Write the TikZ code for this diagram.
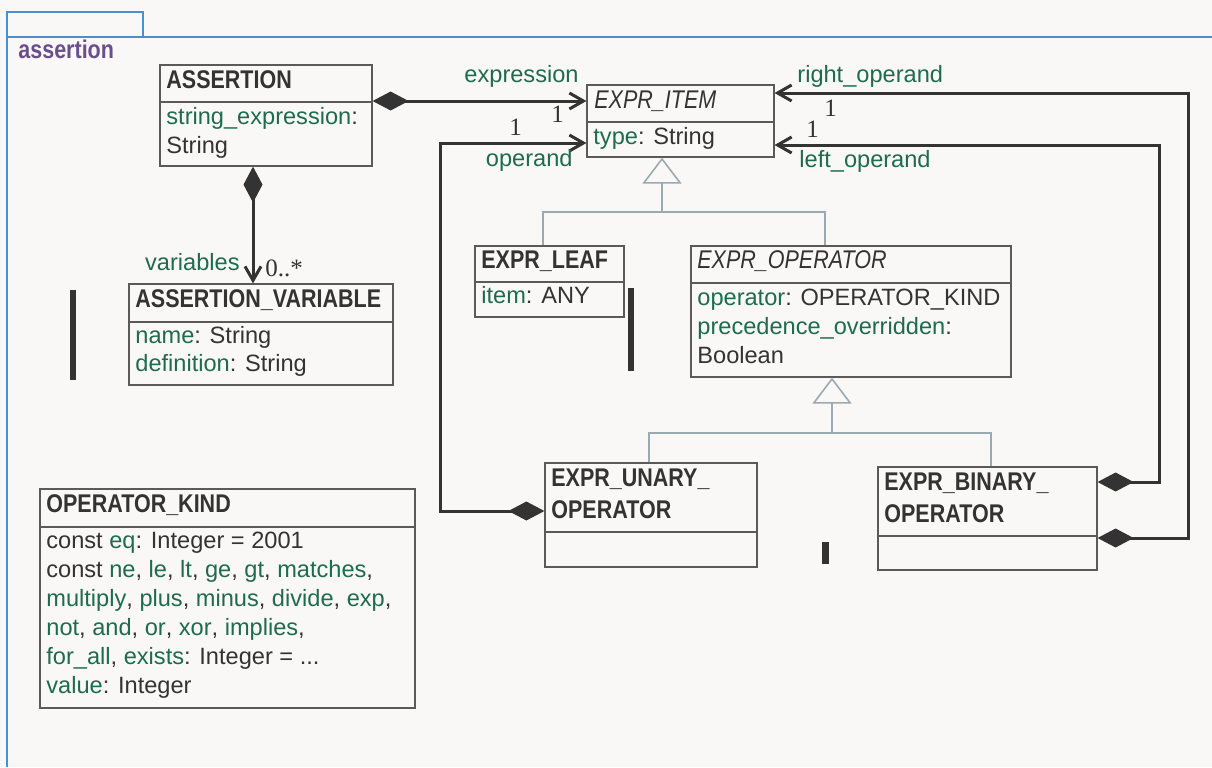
\documentclass[tikz,border=0pt]{standalone}
\usepackage{fontspec}
\setmainfont{Liberation Sans}
\newfontfamily\namefont[FakeStretch=0.84]{Liberation Sans}
\newfontfamily\multfont{Liberation Serif}
\usetikzlibrary{arrows.meta,fit}

\definecolor{framecol}{HTML}{4A90D0}
\definecolor{pkgcol}{HTML}{6B4E8C}
\definecolor{attrcol}{HTML}{1F6B4E}
\definecolor{inkcol}{HTML}{333333}
\definecolor{boxcol}{HTML}{5A5A5A}
\definecolor{inhcol}{HTML}{9BA9B1}
\definecolor{bgcol}{HTML}{F9F8F7}

\newcommand{\attrsize}{\fontsize{11.8pt}{14.5pt}\selectfont}
\newcommand{\namesize}{\fontsize{12.8pt}{14.5pt}\selectfont}
\newcommand{\an}[1]{\textcolor{attrcol}{#1}}
\newcommand{\threedots}{...}

\tikzset{
  classbox/.style={draw=boxcol, line width=0.6pt, inner sep=0pt},
  divider/.style={draw=boxcol, line width=0.6pt},
  classname/.style={anchor=base west, inner sep=0pt, text=inkcol, font=\namefont\bfseries\namesize},
  abstractname/.style={anchor=base west, inner sep=0pt, text=inkcol, font=\namefont\itshape\namesize},
  attrline/.style={anchor=base west, inner sep=0pt, text=inkcol, font=\attrsize},
  rolename/.style={inner sep=0pt, text=attrcol, font=\attrsize},
  multname/.style={anchor=base west, inner sep=0pt, text=inkcol, font=\multfont\fontsize{12.5pt}{14pt}\selectfont},
  compline/.style={draw=inkcol, line width=1.5pt, {Diamond[length=18pt,width=9.5pt]}-{Straight Barb[length=7pt,width=8pt]}},
  inhline/.style={draw=inhcol, line width=0.8pt},
  inhhead/.style={draw=inhcol, line width=0.8pt, -{Triangle[length=13pt,width=19.5pt,fill=bgcol]}},
  bar/.style={fill=inkcol}
}

\begin{document}
\begin{tikzpicture}[x=0.5pt,y=-0.5pt]
\fill[bgcol] (0,0) rectangle (1212,767);
\useasboundingbox (0,0) rectangle (1212,767);

\draw [framecol,line width=1pt] (7,767) -- (7,12) -- (143,12) -- (143,37);
\draw [framecol,line width=1pt] (7,37) -- (1212,37);
\node[anchor=base west,inner sep=0pt,text=pkgcol,font=\namefont\bfseries\namesize] (pkgname) at (18,58) {assertion};

\node[classbox,fit={(160,65) (372,166)}] (assertion) {};
\node[classbox,fit={(129,284) (393,385)}] (assertionvariable) {};
\node[classbox,fit={(587,85) (774,157)}] (expritem) {};
\node[classbox,fit={(475,246) (624,317)}] (exprleaf) {};
\node[classbox,fit={(691,246) (1011,377)}] (exproperator) {};
\node[classbox,fit={(545,463) (757,567)}] (exprunary) {};
\node[classbox,fit={(878,467) (1097,570)}] (exprbinary) {};
\node[classbox,fit={(40,489) (415,708)}] (operatorkind) {};

\foreach \c/\y in {assertion/102,assertionvariable/322,expritem/122,exprleaf/282,exproperator/283,exprunary/532,exprbinary/536,operatorkind/527}
  \draw[divider] (\c.west |- 0,\y) -- (\c.east |- 0,\y);

\node[classname] (assertionname) at (166,88) {ASSERTION};
\node[attrline] (assertionattr1) at (166,124) {\an{string\_expression}:};
\node[attrline] (assertionattr2) at (166,153) {String};

\node[classname] (assertionvariablename) at (135,307) {ASSERTION\_VARIABLE};
\node[attrline] (assertionvariableattr1) at (135,343) {\an{name}: String};
\node[attrline] (assertionvariableattr2) at (135,371) {\an{definition}: String};

\node[abstractname] (expritemname) at (594,108) {EXPR\_ITEM};
\node[attrline] (expritemattr1) at (593,144) {\an{type}: String};

\node[classname] (exprleafname) at (481,268) {EXPR\_LEAF};
\node[attrline] (exprleafattr1) at (481,303) {\an{item}: ANY};

\node[abstractname] (exproperatorname) at (697,268) {EXPR\_OPERATOR};
\node[attrline] (exproperatorattr1) at (697,305) {\an{operator}: OPERATOR\_KIND};
\node[attrline] (exproperatorattr2) at (697,334) {\an{precedence\_overridden}:};
\node[attrline] (exproperatorattr3) at (697,363) {Boolean};

\node[classname] (exprunaryname1) at (551,486) {EXPR\_UNARY\_};
\node[classname] (exprunaryname2) at (551,518) {OPERATOR};

\node[classname] (exprbinaryname1) at (884,490) {EXPR\_BINARY\_};
\node[classname] (exprbinaryname2) at (884,522) {OPERATOR};

\node[classname] (operatorkindname) at (46,512) {OPERATOR\_KIND};
\foreach \t [count=\i] in {{const \an{eq}: Integer = 2001},
  {const \an{ne}, \an{le}, \an{lt}, \an{ge}, \an{gt}, \an{matches},},
  {\an{multiply}, \an{plus}, \an{minus}, \an{divide}, \an{exp},},
  {\an{not}, \an{and}, \an{or}, \an{xor}, \an{implies},},
  {\an{for\_all}, \an{exists}: Integer = \threedots},
  {\an{value}: Integer}}
  \node[attrline] (operatorkindattr\i) at (46,{548+29*(\i-1)}) {\t};

\coordinate (leafjoin) at (662,212);
\coordinate (unaryjoin) at (832,433);
\draw[inhline] (exprleaf.north -| 543,0) |- (leafjoin) -| (exproperator.north -| 825,0);
\draw[inhhead] (leafjoin) -- (expritem.south -| leafjoin);
\draw[inhline] (exprunary.north -| 649,0) |- (unaryjoin) -| (exprbinary.north -| 991,0);
\draw[inhhead] (unaryjoin) -- (exproperator.south -| unaryjoin);

\coordinate (operandbend) at (440,143);
\coordinate (leftbend) at (1159,145);
\coordinate (rightbend) at (1188,93);
\draw[compline] (assertion.east |- 0,101) -- (expritem.west |- 0,101);
\draw[compline] (assertion.south -| 253,0) -- (assertionvariable.north -| 253,0);
\draw[compline] (exprunary.west |- 0,511) -| (operandbend) -- (expritem.west |- operandbend);
\draw[compline] (exprbinary.east |- 0,482) -| (leftbend) -- (expritem.east |- leftbend);
\draw[compline] (exprbinary.east |- 0,538) -| (rightbend) -- (expritem.east |- rightbend);

\node[rolename,anchor=base east] (expressionrole) at (579,82) {expression};
\node[multname] (expressionmult) at (551,122) {1};
\node[rolename,anchor=base east] (operandrole) at (573,166) {operand};
\node[multname] (operandmult) at (509,135) {1};
\node[rolename,anchor=base west] (rightrole) at (797,82) {right\_operand};
\node[multname] (rightmult) at (824,116) {1};
\node[rolename,anchor=base west] (leftrole) at (799,167) {left\_operand};
\node[multname] (leftmult) at (806,137) {1};
\node[rolename,anchor=base east] (variablesrole) at (240,270) {variables};
\node[multname] (variablesmult) at (265,276) {0..*};

\fill[bar] (70,290) rectangle (76,380);
\fill[bar] (628,288) rectangle (634,371);
\fill[bar] (822,542) rectangle (829,564);
\end{tikzpicture}
\end{document}
